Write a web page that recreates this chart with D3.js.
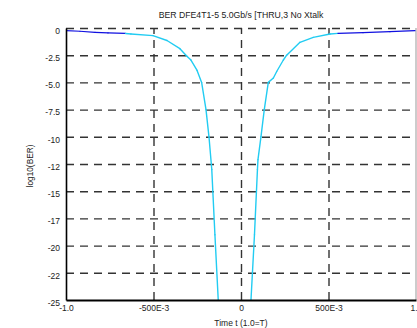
<!DOCTYPE html>
<html>
<head>
<meta charset="utf-8">
<script src="https://cdn.jsdelivr.net/npm/d3@7"></script>
<style>
  html, body { margin: 0; padding: 0; background: #fff; }
  svg { display: block; }
  text { font-family: "Liberation Sans", Arial, sans-serif; fill: #222; }
</style>
</head>
<body>
<svg id="chart" width="417" height="328"></svg>
<script>
// Sampling time (unit intervals) and log10 of the bit error rate
const timeT = [-1.0, -0.92, -0.834, -0.76, -0.66, -0.629, -0.503, -0.423, -0.349, -0.309, -0.286,
  -0.251, -0.225, -0.2, -0.183, -0.167, -0.149, -0.130,
  0.057, 0.077, 0.094, 0.097, 0.114, 0.133, 0.156, 0.185, 0.204, 0.242, 0.261, 0.337,
  0.413, 0.509, 0.554, 0.697, 0.851, 0.994];
const logBer = [-0.25, -0.3, -0.4, -0.45, -0.5, -0.55, -0.7, -1.15, -1.9, -2.6, -2.95,
  -3.9, -5.0, -7.5, -10, -13, -19, -25,
  -25, -19, -13.0, -12.1, -10, -7.5, -5.0, -4.6, -4.0, -2.94, -2.5, -1.32,
  -0.86, -0.55, -0.49, -0.43, -0.34, -0.25];
// The first points trace the left edge of the eye, the rest the right edge
const leftCount = 18;

const yTickValues = [0, -2.5, -5, -7.5, -10, -12.5, -15, -17.5, -20, -22.5, -25];
const yTickLabels = ["0", "-2.5", "-5.0", "-7.5", "-10", "-12", "-15", "-17", "-20", "-22", "-25"];
const xTickValues = [-1, -0.5, 0, 0.5, 1];
const xTickLabels = ["-1.0", "-500E-3", "0", "500E-3", "1.0"];

const titleText = "BER DFE4T1-5 5.0Gb/s [THRU,3 No Xtalk";
const xLabel = "Time t (1.0=T)";
const yLabel = "log10(BER)";

const svg = d3.select("#chart");
const mLeft = 66, mRight = 416, mTop = 28, mBottom = 300;
const x = d3.scaleLinear().domain([-1, 1]).range([mLeft, mRight]);
const y = d3.scaleLinear().domain([-25, 0]).range([mBottom, mTop]);

// Dashed grid
const gridStyle = g => g.selectAll("line")
  .attr("stroke", "#333").attr("stroke-width", 1.4).attr("stroke-dasharray", "8,6");

svg.append("g")
  .attr("transform", `translate(${mLeft},0)`)
  .call(d3.axisLeft(y).tickValues(yTickValues.filter(v => v > -25)).tickSize(-(mRight - mLeft)).tickFormat(""))
  .call(g => g.select(".domain").remove())
  .call(gridStyle);

svg.append("g")
  .attr("transform", `translate(0,${mBottom})`)
  .call(d3.axisBottom(x).tickValues([-0.5, 0, 0.5]).tickSize(-(mBottom - mTop)).tickFormat(""))
  .call(g => g.select(".domain").remove())
  .call(gridStyle);

// Right frame edge
svg.append("line")
  .attr("x1", mRight).attr("x2", mRight).attr("y1", mTop).attr("y2", mBottom)
  .attr("stroke", "#999").attr("stroke-width", 1);

// Curve, clipped to the plot area
svg.append("clipPath").attr("id", "plotClip")
  .append("rect").attr("x", mLeft).attr("y", mTop - 2).attr("width", mRight - mLeft).attr("height", mBottom - mTop + 2);

const pts = timeT.map((t, i) => ({ t, v: logBer[i] }));
const segments = [];
[pts.slice(0, leftCount), pts.slice(leftCount)].forEach(part => {
  for (let i = 0; i < part.length - 1; i++) {
    const a = part[i], b = part[i + 1];
    segments.push({ a, b, near: (a.v + b.v) / 2 > -0.5 });
  }
});
const line = d3.line().x(d => x(d.t)).y(d => y(d.v));
svg.append("g").attr("clip-path", "url(#plotClip)")
  .selectAll("path").data(segments).join("path")
  .attr("d", d => line([d.a, d.b]))
  .attr("fill", "none")
  .attr("stroke", d => d.near ? "#1010e0" : "#22ccf2")
  .attr("stroke-width", d => d.near ? 1.2 : 1.4)
  .attr("stroke-linecap", "round");

// Axes with labels
const yAxis = svg.append("g")
  .attr("transform", `translate(${mLeft},0)`)
  .call(d3.axisLeft(y).tickValues(yTickValues).tickSize(0).tickPadding(6)
    .tickFormat((d, i) => yTickLabels[i]));
yAxis.select(".domain").attr("stroke", "#000").attr("stroke-width", 1.6);
yAxis.selectAll("text").attr("font-size", 8.5).attr("dy", "0.62em")
  .style("font-family", "Liberation Sans, Arial, sans-serif").attr("fill", "#222");

const xAxis = svg.append("g")
  .attr("transform", `translate(0,${mBottom})`)
  .call(d3.axisBottom(x).tickValues(xTickValues).tickSize(0).tickPadding(5)
    .tickFormat((d, i) => xTickLabels[i]));
xAxis.select(".domain").attr("stroke", "#000").attr("stroke-width", 1.8);
xAxis.selectAll("text").attr("font-size", 8.5)
  .style("font-family", "Liberation Sans, Arial, sans-serif").attr("fill", "#222");

// Titles
svg.append("text").attr("x", 241).attr("y", 17.5).attr("text-anchor", "middle")
  .attr("font-size", 8.7).text(titleText);
svg.append("text").attr("x", 241).attr("y", 325.5).attr("text-anchor", "middle")
  .attr("font-size", 8.5).text(xLabel);
svg.append("text").attr("transform", "translate(33,166) rotate(-90)").attr("text-anchor", "middle")
  .attr("font-size", 8.3).text(yLabel);
</script>
</body>
</html>
